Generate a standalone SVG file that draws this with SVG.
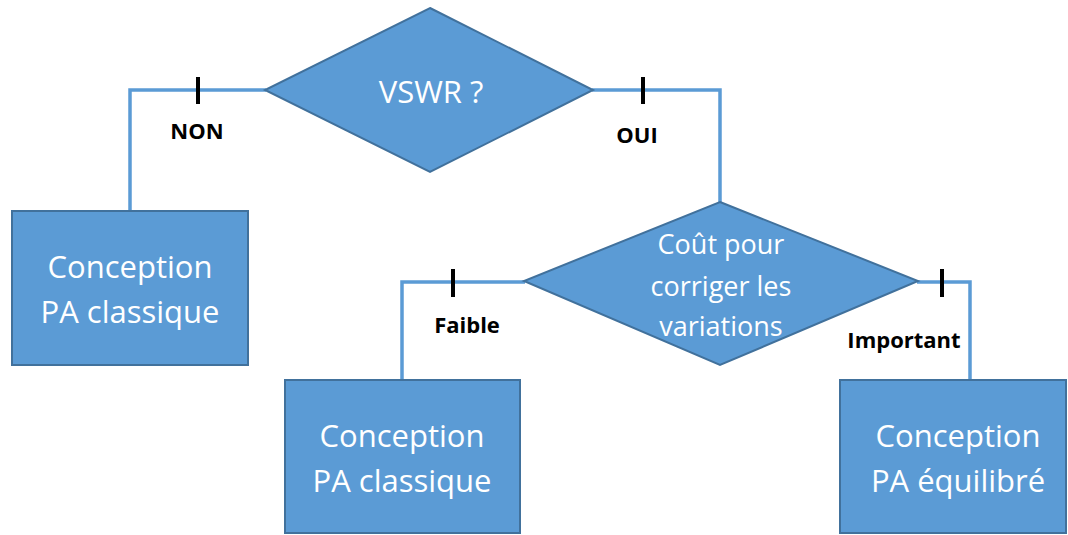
<svg xmlns="http://www.w3.org/2000/svg" width="1068" height="535" viewBox="0 0 1068 535">
<style>
.node{fill:#5B9BD5;stroke:#41719C;stroke-width:2}
.conn{fill:none;stroke:#5B9BD5;stroke-width:3.5}
.tick{stroke:#000;stroke-width:4}
.wt{fill:#fff;font-family:"Open Sans","Liberation Sans",sans-serif;text-anchor:middle}
.lbl{fill:#000;font-family:"Open Sans","Liberation Sans",sans-serif;font-weight:bold;font-size:22px;text-anchor:middle}
</style>
<rect width="1068" height="535" fill="#fff"/>
<g id="connectors">
<polyline class="conn" points="266,90 130,90 130,211"/>
<polyline class="conn" points="592,90 720,90 720,203"/>
<polyline class="conn" points="525,282 402,282 402,380"/>
<polyline class="conn" points="917,282 970,282 970,380"/>
<line class="tick" x1="198" y1="77" x2="198" y2="104"/>
<line class="tick" x1="643" y1="77" x2="643" y2="104"/>
<line class="tick" x1="453" y1="269" x2="453" y2="297"/>
<line class="tick" x1="942" y1="269" x2="942" y2="297"/>
<text class="lbl" x="197" y="139">NON</text>
<text class="lbl" x="637" y="143">OUI</text>
<text class="lbl" x="467" y="333">Faible</text>
<text class="lbl" x="904" y="348">Important</text>
</g>
<g id="d1">
<polygon class="node" points="430,8 593,90 430,172 265,90"/>
<text class="wt" x="431" y="103" font-size="31">VSWR ?</text>
</g>
<g id="d2">
<polygon class="node" points="720,202 918,281 720,365 524,281"/>
<text class="wt" x="721" y="254" font-size="27">Coût pour</text>
<text class="wt" x="721" y="296" font-size="27">corriger les</text>
<text class="wt" x="721" y="336" font-size="27">variations</text>
</g>
<g id="b1">
<rect class="node" x="12" y="211" width="236" height="154"/>
<text class="wt" x="130" y="278" font-size="31">Conception</text>
<text class="wt" x="130" y="323" font-size="31">PA classique</text>
</g>
<g id="b2">
<rect class="node" x="285" y="380" width="235" height="153"/>
<text class="wt" x="402" y="447" font-size="31">Conception</text>
<text class="wt" x="402" y="492" font-size="31">PA classique</text>
</g>
<g id="b3">
<rect class="node" x="840" y="380" width="226" height="153"/>
<text class="wt" x="958" y="447" font-size="31">Conception</text>
<text class="wt" x="958" y="492" font-size="31">PA équilibré</text>
</g>
</svg>
